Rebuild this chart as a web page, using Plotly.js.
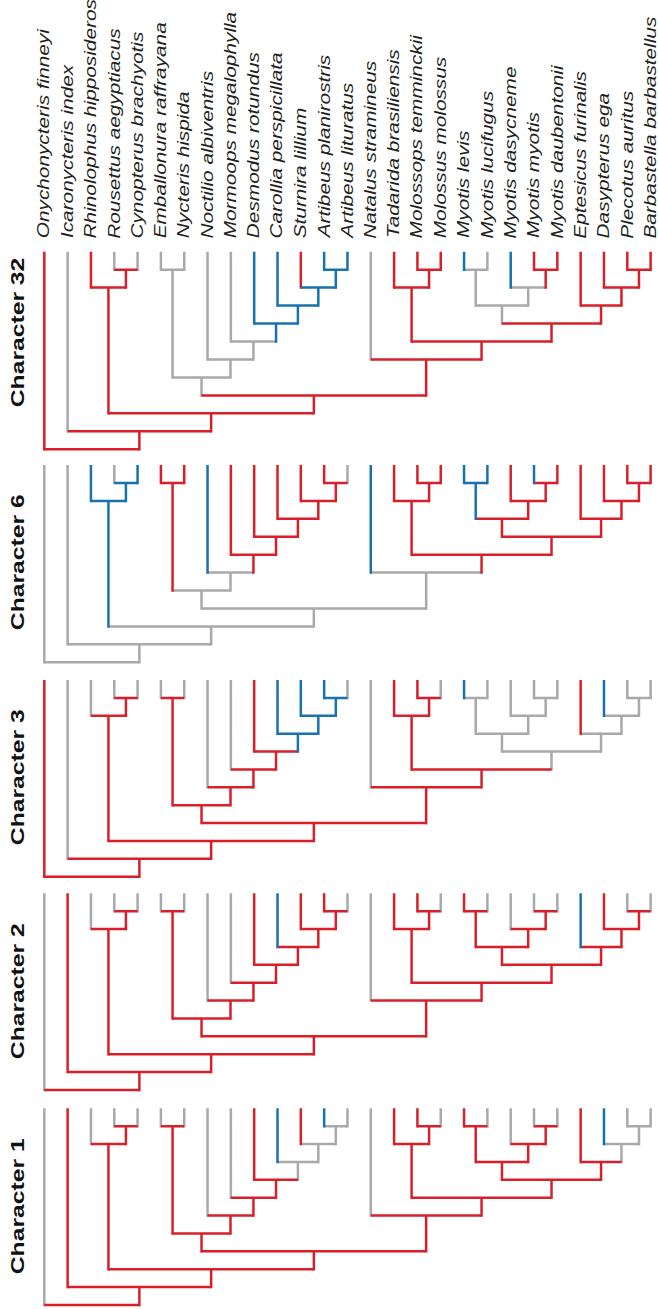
<!DOCTYPE html>
<html>
<head>
<meta charset="utf-8">
<script src="https://cdn.plot.ly/plotly-3.0.1.min.js"></script>
<style>
  html, body { margin: 0; padding: 0; background: #ffffff; }
  #chart { width: 658px; height: 1309px; }
</style>
</head>
<body>
<div id="chart"></div>
<script>
// ---------------- DATA ----------------
const taxa = [
  "Onychonycteris finneyi", "Icaronycteris index", "Rhinolophus hipposideros",
  "Rousettus aegyptiacus", "Cynopterus brachyotis", "Emballonura raffrayana",
  "Nycteris hispida", "Noctilio albiventris", "Mormoops megalophylla",
  "Desmodus rotundus", "Carollia perspicillata", "Sturnira lillium",
  "Artibeus planirostris", "Artibeus lituratus", "Natalus stramineus",
  "Tadarida brasiliensis", "Molossops temminckii", "Molossus molossus",
  "Myotis levis", "Myotis lucifugus", "Myotis dasycneme", "Myotis myotis",
  "Myotis daubentonii", "Eptesicus furinalis", "Dasypterus ega",
  "Plecotus auritus", "Barbastella barbastellus"
];

// topology: tips are indices into taxa
const tree = [0, [1, [[2, [3, 4]],
  [[[5, 6], [7, [8, [9, [10, [11, [12, 13]]]]]]],
   [14, [[15, [16, 17]], [[[18, 19], [20, [21, 22]]], [23, [24, [25, 26]]]]]]]]]];

// internal nodes, in pre-order
const nodeNames = ["root", "crown1", "crown", "yinp", "ptero", "yang", "embnoct",
  "embnyc", "noct", "mormphyl", "phyl", "phyl2", "sten", "arti", "natves",
  "molves", "moloss", "molo2", "vesp", "myotis", "my1", "my2", "my3",
  "vesp2", "vesp3", "vesp4"];

const characters = ["Character 32", "Character 6", "Character 3", "Character 2", "Character 1"];

// states: R = red, G = grey, B = blue
const char32Tips  = ["R","G","R","G","G","G","G","G","G","B","B","R","B","B","G","R","R","R","B","G","B","R","R","R","R","R","R"];
const char32Nodes = ["R","R","R","R","R","R","G","G","G","G","B","B","B","B","R","R","R","R","R","G","G","G","R","R","R","R"];

const char6Tips   = ["G","G","B","G","B","R","R","B","R","R","R","R","R","G","B","R","R","R","B","B","R","B","R","R","R","R","R"];
const char6Nodes  = ["G","G","G","B","B","G","G","R","G","R","R","R","R","R","G","R","R","R","R","R","B","R","R","R","R","R"];

const char3Tips   = ["R","G","G","G","G","G","G","G","G","R","B","B","B","G","G","R","R","G","B","G","G","G","G","R","B","G","G"];
const char3Nodes  = ["R","R","R","R","R","R","R","R","R","R","R","B","B","B","R","R","R","R","G","G","G","G","G","G","G","G"];

const char2Tips   = ["G","R","G","G","G","G","G","G","G","R","B","R","R","G","G","R","R","G","R","G","G","G","G","B","R","G","G"];
const char2Nodes  = ["R","R","R","R","R","R","R","R","R","R","R","R","R","R","R","R","R","R","R","R","R","R","R","R","R","R"];

const char1Tips   = ["G","R","G","G","G","G","G","G","G","R","B","R","B","G","G","R","R","G","R","G","G","G","G","R","B","G","G"];
const char1Nodes  = ["R","R","R","R","R","R","R","R","R","R","R","G","G","G","R","R","R","R","R","R","R","R","R","R","G","G"];

const tipStates  = [char32Tips, char6Tips, char3Tips, char2Tips, char1Tips];
const nodeStates = [char32Nodes, char6Nodes, char3Nodes, char2Nodes, char1Nodes];

// ---------------- STYLE / LAYOUT ----------------
const W = 658, H = 1309;
const COLORS = { R: "#d81f2a", G: "#a8a9ad", B: "#1772ad" };
const LW = 2.5;
const panelTipPx  = [251.7, 465.0, 680.0, 893.3, 1108.3];
const panelRootPx = [449.3, 662.3, 876.7, 1090.0, 1305.0];
const titleCenterPx = [332.5, 562, 777, 991, 1206];
const labelBasePx = 239.5;
const STRETCH = 1.3;
const PAD = 0.12;

// ---------------- TREE GEOMETRY ----------------
function place(n) {
  if (typeof n === "number") return { tip: n, x: n, d: 0 };
  const l = place(n[0]), r = place(n[1]);
  return { children: [l, r], x: (l.x + r.x) / 2, d: Math.max(l.d, r.d) + 1 };
}
const placed = place(tree);
const maxDepth = placed.d;

function collect(node, parentD, tips, nodes, out, ctr, ext) {
  const add = (c, xs, ys) => { out[c].x.push(xs[0], xs[1], null); out[c].y.push(ys[0], ys[1], null); };
  if (node.tip !== undefined) {
    add(tips[node.tip], [node.x, node.x], [0, parentD + ext]);
    return;
  }
  const c = nodes[ctr.i++];
  const [l, r] = node.children;
  add(c, [l.x, r.x], [node.d, node.d]);
  if (parentD !== null) add(c, [node.x, node.x], [node.d, parentD + ext]);
  collect(l, node.d, tips, nodes, out, ctr, ext);
  collect(r, node.d, tips, nodes, out, ctr, ext);
}

const traces = [];
const layout = {
  width: W, height: H,
  margin: { l: 0, r: 0, t: 0, b: 0, pad: 0 },
  paper_bgcolor: "#ffffff", plot_bgcolor: "rgba(0,0,0,0)",
  showlegend: false,
  xaxis: { range: [-44.3 / 23.32, (W - 44.3) / 23.32], visible: false, fixedrange: true },
  annotations: []
};

characters.forEach((name, p) => {
  const ppl = (panelRootPx[p] - panelTipPx[p]) / maxDepth;
  const ext = (LW / 2) / ppl;
  const topPx = panelTipPx[p] - PAD * ppl;
  const botPx = panelRootPx[p] + PAD * ppl;
  const axName = p === 0 ? "yaxis" : "yaxis" + (p + 1);
  const axRef = p === 0 ? "y" : "y" + (p + 1);
  layout[axName] = {
    domain: [1 - botPx / H, 1 - topPx / H],
    range: [maxDepth + PAD, -PAD],
    visible: false, fixedrange: true, anchor: "x"
  };
  const out = { G: { x: [], y: [] }, R: { x: [], y: [] }, B: { x: [], y: [] } };
  collect(placed, null, tipStates[p], nodeStates[p], out, { i: 0 }, ext);
  ["G", "R", "B"].forEach(c => {
    traces.push({
      type: "scatter", mode: "lines", xaxis: "x", yaxis: axRef,
      x: out[c].x, y: out[c].y, connectgaps: false,
      line: { color: COLORS[c], width: LW }, hoverinfo: "skip"
    });
  });
});

// taxon labels
taxa.forEach((t, i) => {
  layout.annotations.push({
    text: t, xref: "x", yref: "paper", x: i, y: 1 - labelBasePx / H,
    xanchor: "center", yanchor: "bottom", textangle: -90, showarrow: false,
    borderpad: 0,
    font: { family: "Liberation Sans, Arial, sans-serif", size: 16, color: "#231f20", style: "italic" }
  });
});
// panel titles
characters.forEach((c, p) => {
  layout.annotations.push({
    text: c, xref: "paper", yref: "paper", x: 17.5 / W, y: 1 - titleCenterPx[p] / H,
    xanchor: "center", yanchor: "middle", textangle: -90, showarrow: false,
    borderpad: 0,
    font: { family: "Liberation Sans, Arial, sans-serif", size: 19, color: "#111111", weight: 700 }
  });
});

const gd = document.getElementById("chart");
Plotly.newPlot(gd, traces, layout, { staticPlot: true, displayModeBar: false }).then(() => {
  gd.querySelectorAll("g.annotation").forEach(g => {
    const idx = +g.getAttribute("data-index");
    const t = g.querySelector("text.annotation-text");
    if (!t) return;
    const b = t.getBBox();
    const ax = idx < taxa.length ? b.x : b.x + b.width / 2;
    t.setAttribute("transform", `translate(${ax},0) scale(${STRETCH},1) translate(${-ax},0)`);
  });
});
</script>
</body>
</html>
